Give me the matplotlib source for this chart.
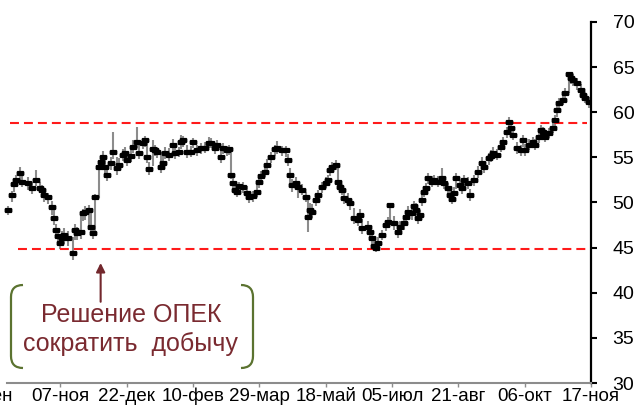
"""Brent price (HLC bars) with OPEC decision annotation."""

import matplotlib
matplotlib.use("Agg")
import matplotlib.pyplot as plt
from matplotlib.path import Path
from matplotlib.patches import PathPatch

plt.rcParams["font.family"] = ["Liberation Sans", "DejaVu Sans"]

# trading-day index and daily close / high / low
days = [0, 2, 3, 4, 6, 7, 10, 12, 14, 16, 17, 18, 20, 22, 23, 24, 25, 26, 27, 28,
        30, 32, 33, 34, 36, 37, 38, 40, 41, 42, 43,
        45, 46, 47, 48, 49, 51, 52, 54, 55, 57, 58, 59, 61, 62, 64, 65, 67, 68, 69,
        70, 72, 73, 74, 76, 77, 78, 80, 82, 83, 85, 86, 87, 89,
        91, 92, 94, 96, 98, 100, 101, 103, 104, 106, 107, 109, 110, 111, 112, 113,
        114, 115, 117, 119, 120, 122, 124, 125, 126, 128, 129, 131, 133, 134, 136,
        138, 139, 140, 141, 143, 144, 146, 148, 149, 150, 151, 153, 154, 156, 158,
        159, 160, 161, 163, 164, 165, 166, 167, 169, 170, 172, 174, 175, 176, 179,
        180, 181, 182, 183, 184, 186,
        188, 189, 190, 192, 194, 195, 197, 198, 199, 201, 202, 203, 204, 205, 206,
        207, 208, 209, 211, 212, 214, 216, 217, 219, 220, 221, 222, 223, 225, 226,
        227, 229, 230, 232, 234, 236, 237, 239,
        240, 241, 243, 245, 246, 248, 249, 250, 251, 253, 255, 256, 257, 259, 261,
        262, 264, 265, 266, 267, 269, 271, 272, 273, 274, 276, 277, 279, 280, 281,
        283, 285, 286, 287, 289]

close = [49.2, 50.8, 52.0, 52.5, 53.3, 52.3, 52.2, 51.6, 52.5, 51.6, 51.4, 50.8, 50.6, 49.5, 48.3, 47.0, 46.3, 45.5, 46.1, 46.4,
         46.1, 44.4, 47.0, 46.6, 46.7, 48.8, 49.0, 49.2, 47.3, 46.6, 50.6,
         53.9, 54.5, 55.0, 53.9, 53.0, 54.4, 55.6, 53.8, 54.2, 55.3, 55.5, 54.7, 55.2, 56.2, 56.7, 55.5, 56.6, 56.9, 55.0,
         53.7, 55.9, 55.8, 55.6, 53.9, 54.4, 55.5, 55.3, 56.4, 55.5, 55.6, 56.7, 56.9, 55.6,
         55.6, 56.7, 55.8, 56.0, 56.0, 56.6, 56.6, 56.0, 56.4, 55.0, 56.0, 55.8, 55.9, 53.0, 52.2, 51.4,
         51.2, 51.8, 51.7, 51.1, 50.6, 50.7, 51.2, 52.3, 52.9, 53.4, 54.2, 55.0, 55.9, 56.0, 55.8,
         55.8, 54.7, 53.0, 51.9, 52.2, 51.7, 51.4, 50.6, 48.4, 49.2, 49.0, 50.3, 50.8, 51.7, 52.2,
         52.5, 53.6, 53.9, 54.2, 52.3, 51.7, 51.4, 50.5, 50.3, 49.9, 48.3, 48.1, 48.6, 47.2, 47.3,
         46.7, 46.1, 45.2, 45.0, 45.5, 46.4,
         47.5, 47.8, 49.7, 47.7, 46.7, 47.3, 47.7, 48.4, 49.0, 48.8, 49.6, 49.2, 48.3, 48.6, 50.3,
         51.2, 51.6, 52.7, 52.3, 52.5, 52.3, 52.7, 52.2, 51.6, 50.8, 50.4, 51.1, 52.7, 51.9, 51.6,
         52.5, 52.2, 50.8, 52.5, 53.4, 54.4, 53.9, 54.9,
         55.2, 55.5, 55.3, 56.2, 56.7, 57.8, 58.9, 58.3, 57.5, 56.0, 55.8, 56.9, 55.8, 56.4, 56.7,
         56.4, 57.3, 58.0, 57.8, 57.3, 57.7, 58.3, 59.1, 60.2, 61.0, 61.4, 62.1, 64.2, 63.8, 63.6,
         63.2, 62.5, 61.9, 61.6, 61.1]

high = [49.6, 51.3, 52.6, 53.0, 53.9, 53.0, 52.8, 52.3, 53.6, 52.3, 51.9, 51.4, 51.0, 50.2, 49.2, 47.6, 47.0, 46.4, 46.8, 47.2,
        46.8, 46.2, 47.6, 47.3, 48.9, 49.3, 49.6, 49.7, 49.4, 47.2, 50.9,
        54.6, 55.2, 55.7, 55.2, 54.2, 55.0, 57.8, 55.0, 54.9, 55.9, 56.1, 55.6, 55.8, 56.9, 58.4, 56.4, 57.2, 57.4, 56.9,
        54.5, 56.9, 56.4, 56.2, 55.6, 55.1, 56.1, 56.0, 57.0, 56.2, 56.2, 57.5, 57.4, 56.4,
        56.3, 57.2, 56.4, 56.6, 56.7, 57.3, 57.1, 56.6, 56.9, 56.3, 56.6, 56.3, 56.4, 55.8, 53.2, 52.3,
        51.9, 52.3, 52.3, 51.8, 51.3, 51.3, 51.9, 52.9, 53.5, 54.0, 54.8, 55.6, 56.4, 56.8, 56.3,
        56.3, 55.4, 53.8, 52.6, 52.8, 52.3, 52.0, 51.2, 50.3, 49.9, 49.8, 50.9, 51.4, 52.3, 52.8,
        53.1, 54.1, 54.5, 54.7, 53.9, 52.3, 52.0, 51.1, 51.0, 50.5, 49.4, 48.7, 49.3, 48.2, 48.0,
        47.4, 46.8, 46.0, 45.6, 46.2, 47.0,
        48.1, 48.4, 49.9, 48.5, 47.4, 47.9, 48.3, 49.0, 49.6, 49.6, 50.2, 49.9, 49.0, 49.2, 50.9,
        51.8, 52.2, 53.3, 52.9, 53.1, 52.9, 53.8, 52.9, 52.2, 51.4, 51.0, 51.7, 53.3, 52.5, 52.2,
        53.1, 52.8, 51.5, 53.1, 54.0, 55.0, 54.6, 55.5,
        55.8, 56.1, 55.9, 56.8, 57.3, 58.4, 59.5, 59.0, 58.1, 56.7, 56.4, 57.5, 56.5, 57.0, 57.3,
        57.0, 57.9, 58.6, 58.4, 57.9, 58.3, 58.9, 59.7, 60.8, 61.6, 62.0, 62.7, 64.5, 64.4, 64.2,
        63.8, 63.1, 62.5, 62.2, 61.7]

low = [48.6, 50.0, 51.2, 51.8, 52.4, 51.7, 51.4, 50.9, 51.8, 51.0, 50.6, 50.1, 49.8, 48.6, 47.5, 46.3, 45.6, 44.9, 45.4, 45.4,
       45.2, 43.6, 45.8, 45.9, 46.0, 47.9, 48.1, 46.9, 46.6, 46.0, 46.8,
       50.5, 53.8, 54.3, 53.2, 52.4, 53.6, 54.8, 53.0, 53.5, 54.6, 54.8, 54.0, 54.5, 55.5, 56.0, 54.8, 55.9, 56.2, 54.4,
       53.1, 54.0, 55.1, 54.9, 53.3, 53.7, 54.8, 54.6, 55.7, 54.8, 55.0, 55.9, 56.2, 54.9,
       55.0, 56.0, 55.2, 55.4, 55.5, 56.0, 56.0, 55.4, 55.8, 54.4, 55.4, 55.2, 55.3, 52.6, 51.6, 50.8,
       50.6, 51.1, 51.0, 50.4, 49.9, 50.1, 50.6, 51.6, 52.3, 52.8, 53.6, 54.4, 55.2, 55.4, 55.2,
       55.0, 54.0, 52.2, 51.2, 51.6, 50.5, 50.8, 50.0, 46.7, 48.5, 48.3, 49.6, 50.2, 51.1, 51.6,
       51.9, 52.9, 53.3, 53.6, 51.8, 51.1, 50.8, 49.8, 49.6, 49.2, 47.6, 47.4, 48.0, 46.5, 46.6,
       46.0, 45.4, 44.6, 44.5, 44.9, 45.8,
       46.8, 47.2, 47.8, 47.0, 46.1, 46.6, 47.0, 47.7, 48.3, 48.1, 49.0, 48.6, 47.6, 47.9, 49.6,
       50.6, 51.0, 52.0, 51.7, 51.9, 51.7, 52.0, 51.5, 50.9, 50.1, 49.8, 50.5, 51.5, 51.3, 50.9,
       51.8, 51.5, 50.2, 51.8, 52.7, 53.8, 53.3, 54.2,
       54.5, 54.9, 54.7, 55.6, 56.1, 57.1, 57.8, 57.6, 56.9, 55.4, 55.2, 56.2, 55.1, 55.8, 56.1,
       55.8, 56.6, 57.3, 57.1, 56.7, 57.1, 57.7, 58.4, 59.5, 60.3, 60.8, 61.4, 62.1, 63.1, 62.9,
       62.5, 61.8, 61.3, 61.0, 60.5]

# date ticks (every 33 trading days on the category axis)
tick_days = [-12, 26, 59, 92, 125, 158, 191, 224, 257, 290]
tick_labels = ["22-сен", "07-ноя", "22-дек", "10-фев", "29-мар",
               "18-май", "05-июл", "21-авг", "06-окт", "17-ноя"]

# range levels (dashed red)
levels = [58.8, 44.8]
level_start = [1, 5]
level_end = 288

note = "Решение ОПЕК\nсократить  добычу"
note_day, note_y = 61, 35.9
arrow_day, arrow_tip, arrow_tail = 46, 43.3, 39.0

W, H = 637, 419
fig = plt.figure(figsize=(W / 100, H / 100), dpi=100)
# plot area: x from -32px to 591px, y from 22px to 383px (top origin)
ax = fig.add_axes([-32 / W, (H - 383) / H, 623 / W, 361 / H])
ax.set_xlim(-20, 290)
ax.set_ylim(30, 70)

ax.vlines(days, low, high, color="#8c8c8c", lw=1.5, zorder=2)
for lv, x0 in zip(levels, level_start):
    ax.hlines(lv, x0, level_end, color="#ff1a1a", lw=1.5,
              linestyles=(0, (4.3, 2.4)), zorder=3)
bar_marker = [(-3, -1.2), (-2.4, -2), (2.4, -2), (3, -1.2),
              (3, 1.2), (2.4, 2), (-2.4, 2), (-3, 1.2)]
ax.plot(days, close, ls="none", marker=bar_marker, ms=5.6, mew=0,
        color="black", zorder=4)

for s in ("left", "top"):
    ax.spines[s].set_visible(False)
ax.spines["bottom"].set_color("#8c8c8c")
ax.spines["bottom"].set_linewidth(1.5)
ax.spines["bottom"].set_bounds(-0.5, 290)
ax.spines["right"].set_linewidth(1.6)

ax.yaxis.tick_right()
ax.set_yticks(range(30, 71, 5))
ax.tick_params(axis="y", direction="out", length=4.5, width=1.5,
               pad=11, labelsize=14, colors="black")
ax.set_xticks(tick_days)
ax.set_xticklabels(tick_labels)
ax.tick_params(axis="x", direction="out", length=3, width=1,
               color="#8c8c8c", pad=0.5, labelsize=13.5)

# annotation
ax.annotate("", xy=(arrow_day, arrow_tip), xytext=(arrow_day, arrow_tail),
            arrowprops=dict(arrowstyle="-|>", color="#73282d", lw=1.5,
                            mutation_scale=13, shrinkA=0, shrinkB=0))
ax.text(note_day, note_y, note, ha="center", va="center", fontsize=18,
        color="#7a2a30", linespacing=1.25)


def px(x, y):
    return (x / W, 1 - y / H)


codes = [Path.MOVETO, Path.CURVE3, Path.CURVE3, Path.LINETO, Path.CURVE3, Path.CURVE3]
for xe, xs in ((23, 11), (241, 253)):
    verts = [px(xe, 285), px(xs, 285), px(xs, 297),
             px(xs, 356), px(xs, 368), px(xe, 368)]
    fig.patches.append(PathPatch(Path(verts, codes), fill=False,
                                 edgecolor="#5b7330", lw=1.6,
                                 transform=fig.transFigure))

fig.savefig("out.png", dpi=100)
